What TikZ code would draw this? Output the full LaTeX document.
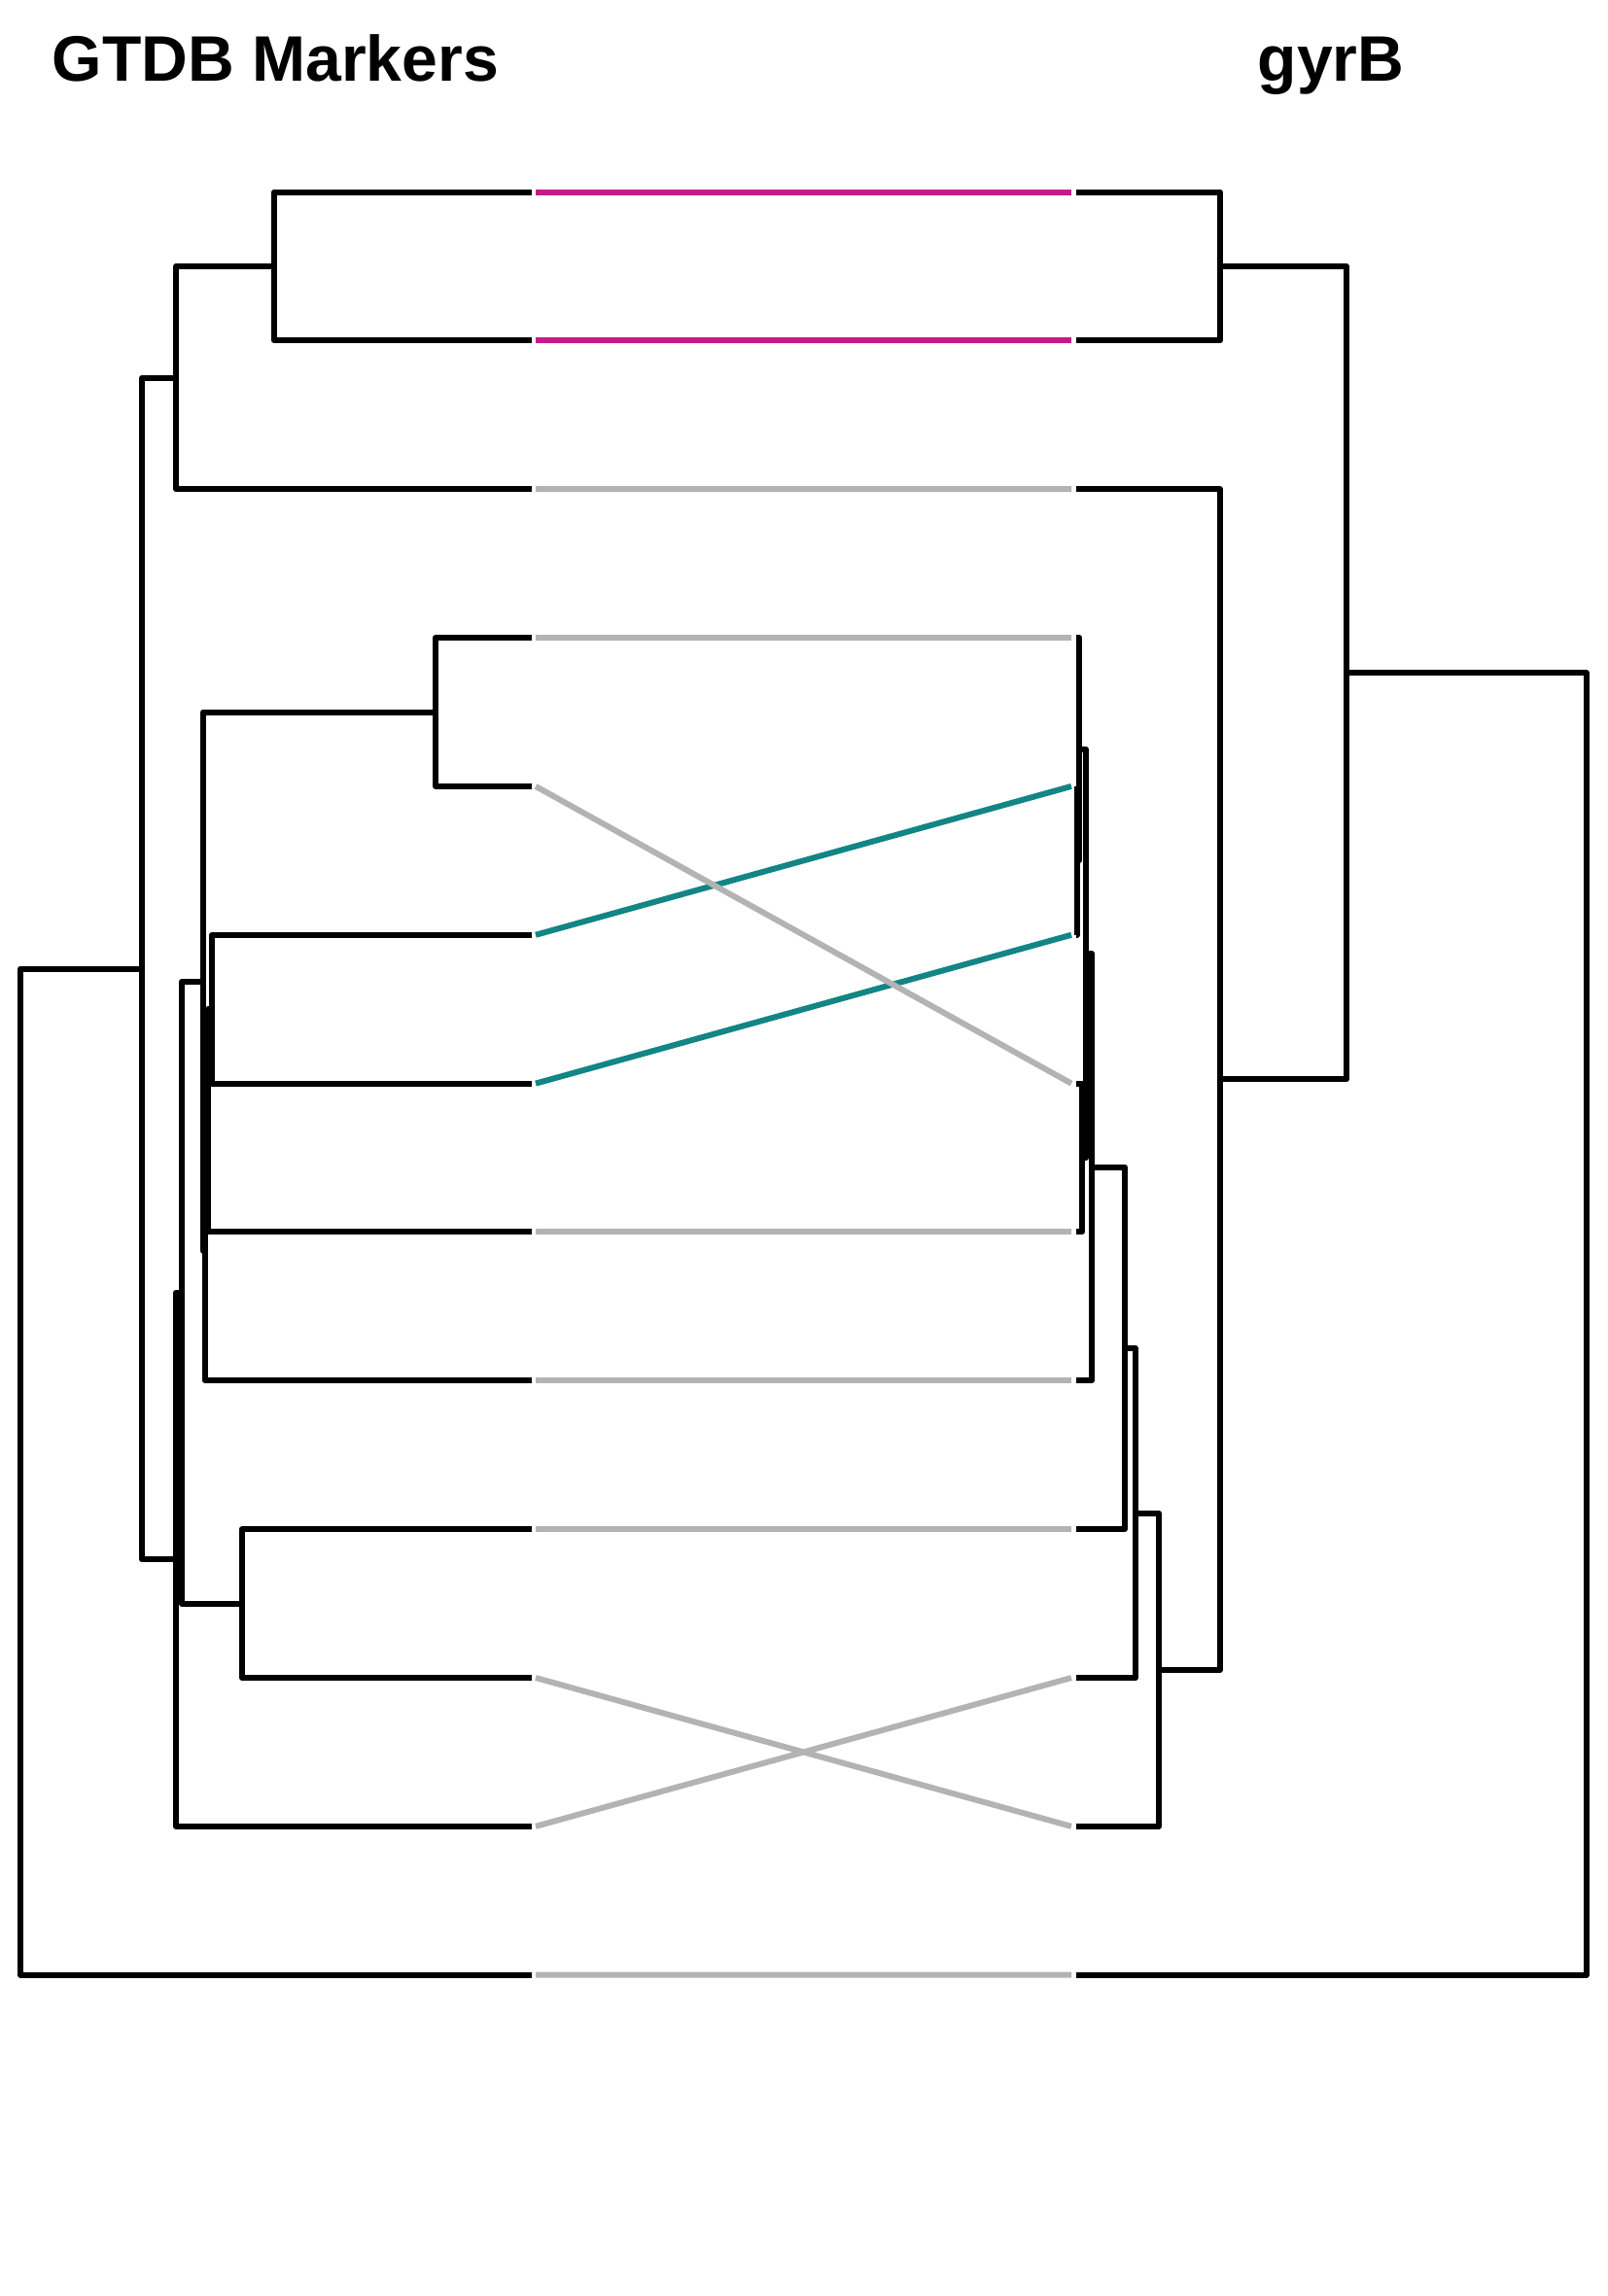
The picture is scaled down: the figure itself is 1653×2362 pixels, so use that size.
\documentclass[tikz,border=0pt]{standalone}
\usepackage{fontspec}
\setmainfont{Liberation Sans}
\usetikzlibrary{calc}
\definecolor{pairmag}{HTML}{C51B8A}
\definecolor{pairteal}{HTML}{138585}
\definecolor{pairgray}{HTML}{B3B3B3}
\tikzset{
 branch/.style={line width=0.06cm, line join=round},
 link/.style={line width=0.06cm},
 treetitle/.style={font=\fontsize{18.8}{22}\selectfont\bfseries, anchor=base west, inner sep=0pt}
}

\begin{document}
\begin{tikzpicture}[x=0.01cm, y=-0.01cm]
 \useasboundingbox (0,0) rectangle (1653,2362);
 \node[treetitle] (ltitle) at (53,83) {GTDB Markers};
 \node[treetitle] (rtitle) at (1293,83) {gyrB};
 % leaf tips and link ends
 \foreach \i in {1,...,13} {
  \pgfmathsetmacro{\ly}{197.5+152.85*(\i-1)}
  \coordinate (l\i) at (547,\ly);
  \coordinate (a\i) at (551,\ly);
  \coordinate (b\i) at (1102,\ly);
  \coordinate (r\i) at (1107,\ly);
 }
 % left tree
 \coordinate (lD) at (282,274.0);
 \coordinate (lB) at (181,388.6);
 \coordinate (lH) at (448,732.5);
 \coordinate (lJ) at (218,1038.2);
 \coordinate (lK) at (214,1152.9);
 \coordinate (lI) at (211,1286.6);
 \coordinate (lG) at (209,1009.6);
 \coordinate (lF) at (249,1649.6);
 \coordinate (lE) at (187,1329.6);
 \coordinate (lC) at (181,1604.3);
 \coordinate (lA) at (146,996.5);
 \coordinate (lR) at (21,1514.1);
 \draw[branch] (lD) |- (l1) (lD) |- (l2);
 \draw[branch] (lB) |- (lD) (lB) |- (l3);
 \draw[branch] (lH) |- (l4) (lH) |- (l5);
 \draw[branch] (lJ) |- (l6) (lJ) |- (l7);
 \draw[branch] (lK) |- (lJ) (lK) |- (l8);
 \draw[branch] (lI) |- (lK) (lI) |- (l9);
 \draw[branch] (lG) |- (lH) (lG) |- (lI);
 \draw[branch] (lF) |- (l10) (lF) |- (l11);
 \draw[branch] (lE) |- (lG) (lE) |- (lF);
 \draw[branch] (lC) |- (lE) (lC) |- (l12);
 \draw[branch] (lA) |- (lB) (lA) |- (lC);
 \draw[branch] (lR) |- (lA) (lR) |- (l13);
 % right tree
 \coordinate (rD) at (1255,274.0);
 \coordinate (rP) at (1108,885.4);
 \coordinate (rQ) at (1110,770.8);
 \coordinate (rM) at (1113,1191.1);
 \coordinate (rN) at (1117,981.0);
 \coordinate (rO) at (1123,1200.6);
 \coordinate (rS) at (1157,1386.9);
 \coordinate (rT) at (1168,1556.5);
 \coordinate (rU) at (1192,1717.7);
 \coordinate (rV) at (1255,1110.4);
 \coordinate (rW) at (1385,692.2);
 \coordinate (rR) at (1632,1362.0);
 \draw[branch] (rD) |- (r1) (rD) |- (r2);
 \draw[branch] (rP) |- (r5) (rP) |- (r6);
 \draw[branch] (rQ) |- (r4) (rQ) |- (rP);
 \draw[branch] (rM) |- (r7) (rM) |- (r8);
 \draw[branch] (rN) |- (rQ) (rN) |- (rM);
 \draw[branch] (rO) |- (rN) (rO) |- (r9);
 \draw[branch] (rS) |- (rO) (rS) |- (r10);
 \draw[branch] (rT) |- (rS) (rT) |- (r11);
 \draw[branch] (rU) |- (rT) (rU) |- (r12);
 \draw[branch] (rV) |- (r3) (rV) |- (rU);
 \draw[branch] (rW) |- (rD) (rW) |- (rV);
 \draw[branch] (rR) |- (rW) (rR) |- (r13);
 % links between the two trees
 \draw[link, pairmag] (a1) -- (b1) (a2) -- (b2);
 \draw[link, pairteal] (a6) -- (b5) (a7) -- (b6);
 \draw[link, pairgray] (a3) -- (b3) (a4) -- (b4) (a5) -- (b7);
 \draw[link, pairgray] (a8) -- (b8) (a9) -- (b9) (a10) -- (b10);
 \draw[link, pairgray] (a11) -- (b12) (a12) -- (b11) (a13) -- (b13);
\end{tikzpicture}
\end{document}
